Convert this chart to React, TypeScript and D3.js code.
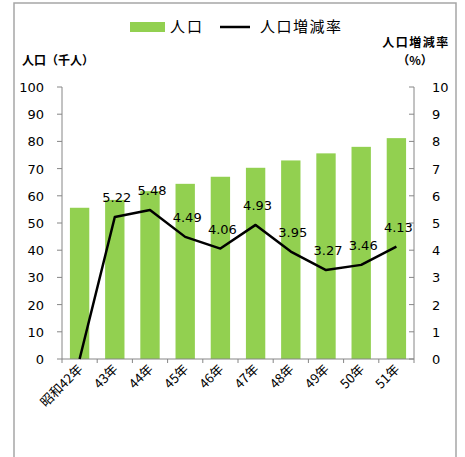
import React from "react";
import * as d3 from "d3";

const categories = ["昭和42年", "43年", "44年", "45年", "46年", "47年", "48年", "49年", "50年", "51年"];
const population = [55.6, 58.5, 61.7, 64.4, 67.0, 70.3, 73.0, 75.6, 78.0, 81.2];
const growthRate = [0, 5.22, 5.48, 4.49, 4.06, 4.93, 3.95, 3.27, 3.46, 4.13];
const rateLabels = ["", "5.22", "5.48", "4.49", "4.06", "4.93", "3.95", "3.27", "3.46", "4.13"];
const leftTicks = [0, 10, 20, 30, 40, 50, 60, 70, 80, 90, 100];
const rightTicks = [0, 1, 2, 3, 4, 5, 6, 7, 8, 9, 10];

const W = 465;
const H = 457;
const plot = { left: 62, right: 414, top: 87, bottom: 359 };
const FONT = "'DejaVu Sans', Verdana, sans-serif";
const JFONT = "'Noto Sans CJK JP', 'DejaVu Sans', sans-serif";
const GREEN = "#92D050";
const AXIS = "#868686";

export default function App() {
  const x = d3.scaleBand<string>().domain(categories).range([plot.left, plot.right]).paddingInner(0.45).paddingOuter(0.225);
  const xb = d3.scaleBand<string>().domain(categories).range([plot.left, plot.right]);
  const yL = d3.scaleLinear().domain([0, 100]).range([plot.bottom, plot.top]);
  const yR = d3.scaleLinear().domain([0, 10]).range([plot.bottom, plot.top]);
  const cx = (c: string) => (xb(c) as number) + xb.bandwidth() / 2;
  const line = d3
    .line<number>()
    .x((_, i) => cx(categories[i]))
    .y((d) => yR(d));

  return (
    <svg width={W} height={H} style={{ position: "absolute", left: 0, top: 0, background: "#fff" }}>
      <rect x={14} y={3} width={442} height={470} fill="#fff" stroke="#a6a6a6" strokeWidth={1.5} />
      {/* legend */}
      <rect x={130} y={22} width={35} height={10} fill={GREEN} />
      <text x={170} y={32} fontFamily={JFONT} fontSize={15} letterSpacing={2} fill="#000">人口</text>
      <line x1={220} x2={250} y1={27} y2={27} stroke="#000" strokeWidth={2.5} />
      <text x={260} y={32} fontFamily={JFONT} fontSize={15} letterSpacing={1.5} fill="#000">人口増減率</text>
      {/* axis titles */}
      <text x={22} y={65} fontFamily={JFONT} fontSize={12} fontWeight="bold" fill="#000">人口（千人）</text>
      <text x={416} y={47} textAnchor="middle" fontFamily={JFONT} fontSize={12} fontWeight="bold" letterSpacing={1.5} fill="#000">人口増減率</text>
      <text x={415} y={65} textAnchor="middle" fontFamily={JFONT} fontSize={12} fontWeight="bold" fill="#000">（%）</text>
      {/* bars */}
      {categories.map((c, i) => (
        <rect key={c} x={x(c)} y={yL(population[i])} width={x.bandwidth()} height={plot.bottom - yL(population[i])} fill={GREEN} />
      ))}
      {/* axes */}
      <line x1={plot.left} x2={plot.left} y1={plot.top} y2={plot.bottom} stroke={AXIS} />
      <line x1={plot.right} x2={plot.right} y1={plot.top} y2={plot.bottom} stroke={AXIS} />
      <line x1={plot.left} x2={plot.right} y1={plot.bottom} y2={plot.bottom} stroke={AXIS} />
      {leftTicks.map((t) => (
        <g key={"l" + t}>
          <line x1={plot.left - 5} x2={plot.left} y1={yL(t)} y2={yL(t)} stroke={AXIS} />
          <text x={44} y={yL(t) + 5} textAnchor="end" fontFamily={FONT} fontSize={13} fill="#000">{t}</text>
        </g>
      ))}
      {rightTicks.map((t) => (
        <g key={"r" + t}>
          <line x1={plot.right - 5} x2={plot.right} y1={yR(t)} y2={yR(t)} stroke={AXIS} />
          <text x={432} y={yR(t) + 5} textAnchor="start" fontFamily={FONT} fontSize={13} fill="#000">{t}</text>
        </g>
      ))}
      {categories.map((c) => (
        <line key={"xt" + c} x1={xb(c)} x2={xb(c)} y1={plot.bottom} y2={plot.bottom + 4} stroke={AXIS} />
      ))}
      <line x1={plot.right} x2={plot.right} y1={plot.bottom} y2={plot.bottom + 4} stroke={AXIS} />
      {categories.map((c) => (
        <text
          key={"xl" + c}
          transform={`translate(${cx(c) + 4},${plot.bottom + 11}) rotate(-45)`}
          textAnchor="end"
          fontFamily={JFONT}
          fontSize={13}
          fill="#000"
        >
          {c}
        </text>
      ))}
      {/* line */}
      <path d={line(growthRate) as string} fill="none" stroke="#000" strokeWidth={2.5} strokeLinejoin="round" />
      {categories.map((c, i) =>
        rateLabels[i] ? (
          <text key={"dl" + c} x={cx(c) + 2} y={yR(growthRate[i]) - 15} textAnchor="middle" fontFamily={FONT} fontSize={13} fill="#000">
            {rateLabels[i]}
          </text>
        ) : null
      )}
    </svg>
  );
}
